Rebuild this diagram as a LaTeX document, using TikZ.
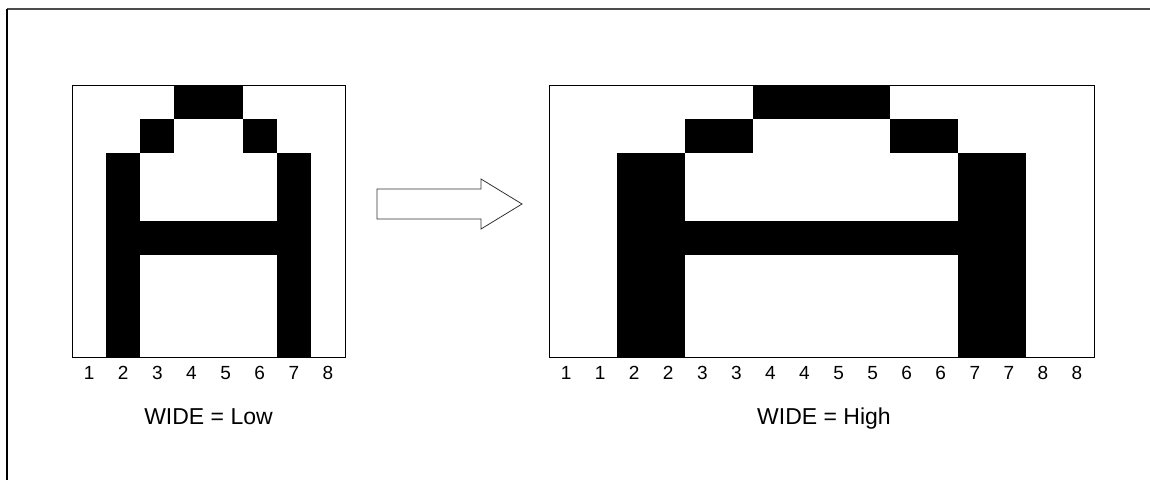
\documentclass[tikz,border=0pt]{standalone}
\usepackage{fontspec}
\setmainfont{Liberation Sans}
\usetikzlibrary{positioning}

\tikzset{
  frame/.style={draw=black, line width=1pt},
  colnum/.style={anchor=base, font=\fontsize{19}{22}\selectfont},
  caption/.style={anchor=base, font=\fontsize{23}{27}\selectfont}
}

\begin{document}
\begin{tikzpicture}[x=1pt,y=-1pt]
  \useasboundingbox (0,0) rectangle (1150,480);
  % page edge
  \draw[line width=1.5pt, black!70] (7,9) -- (1150,9);
  \draw[line width=1.5pt] (7,9) -- (7,480);

  % black pixels of the A, normal and doubled width
  \foreach \r/\cols in {0/{4,5},1/{3,6},2/{2,7},3/{2,7},4/{2,3,4,5,6,7},5/{2,7},6/{2,7},7/{2,7}} {
    \foreach \c in \cols {
      \fill (72+34.125*\c-34.125, 85+34*\r) rectangle ++(34.125,34);
      \fill (549+68.125*\c-68.125, 85+34*\r) rectangle ++(68.125,34);
    }
  }
  \draw[frame] (72,85) rectangle (345,357);
  \draw[frame] (549,85) rectangle (1094,357);

  % column numbers
  \foreach \i in {1,...,8} {
    \node[colnum] (low\i) at (72+34.125*\i-17.06, 379) {\i};
    \node[colnum] (higha\i) at (549+68.125*\i-51.09, 379) {\i};
    \node[colnum] (highb\i) at (549+68.125*\i-17.03, 379) {\i};
  }

  \node[caption] (lowcap) at (208.5,424) {WIDE = Low};
  \node[caption] (highcap) at (824,424) {WIDE = High};

  % big hollow arrow
  \draw[fill=white, draw=black!80, line width=0.8pt]
    (377,189) -- (481,189) -- (481,179) -- (522,204) -- (481,229) -- (481,219) -- (377,219) -- cycle;
\end{tikzpicture}
\end{document}
